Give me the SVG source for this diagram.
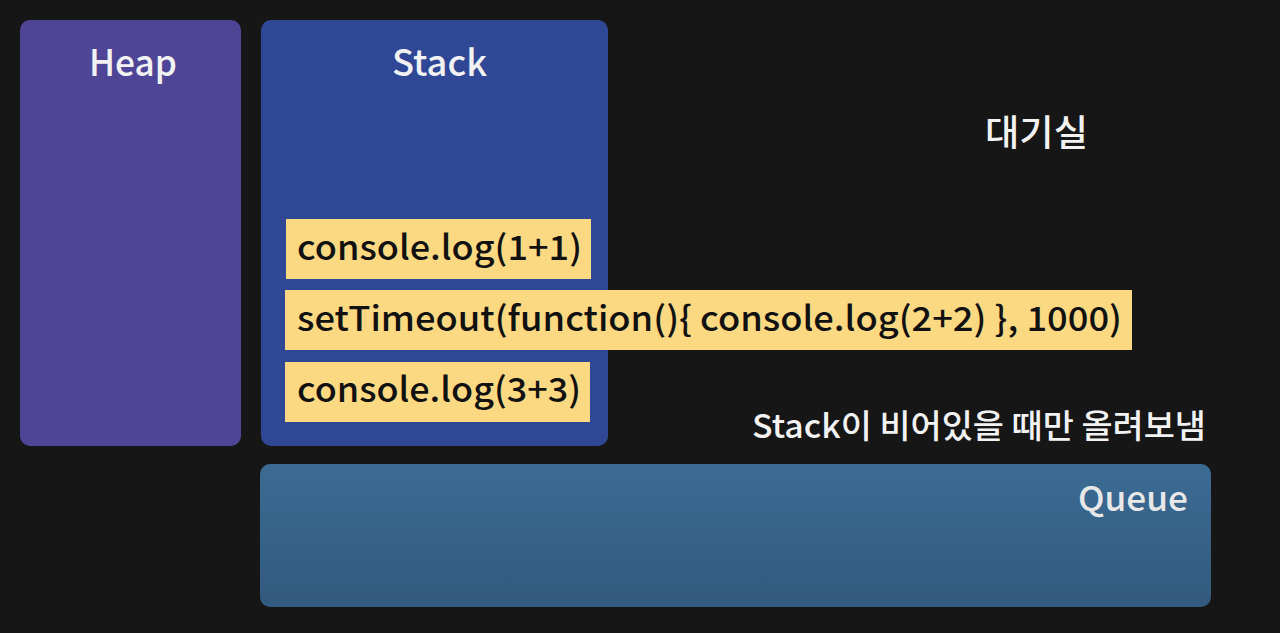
<svg xmlns="http://www.w3.org/2000/svg" width="1280" height="633" viewBox="0 0 1280 633">
<defs>
<linearGradient id="qg" x1="0" y1="0" x2="0" y2="1">
<stop offset="0" stop-color="#3b6b94"/>
<stop offset="1" stop-color="#325a7e"/>
</linearGradient>
<style>
.t{font-family:"Noto Sans CJK KR","Noto Sans",sans-serif;font-weight:500;}
.w{fill:#f2f2f2;}
.code{fill:#111;font-size:34px;}
.ybox{fill:#fbd982;}
</style>
</defs>
<rect width="1280" height="633" fill="#161616"/>
<g id="heap">
<rect x="20" y="20" width="221" height="426" rx="10" fill="#4e4597"/>
<text class="t w" x="89" y="76" font-size="36" textLength="88" lengthAdjust="spacingAndGlyphs">Heap</text>
</g>
<g id="stack">
<rect x="261" y="20" width="347" height="426" rx="10" fill="#2f4795"/>
<text class="t w" x="392" y="76" font-size="36" textLength="95" lengthAdjust="spacingAndGlyphs">Stack</text>
</g>
<g id="queue">
<rect x="260" y="464" width="951" height="143" rx="10" fill="url(#qg)"/>
<text class="t" x="1078" y="511" font-size="34" textLength="110" lengthAdjust="spacingAndGlyphs" fill="#e8e8e8">Queue</text>
</g>
<g id="call1">
<rect class="ybox" x="286" y="219" width="305" height="60"/>
<text class="t code" x="297" y="260" textLength="285" lengthAdjust="spacingAndGlyphs">console.log(1+1)</text>
</g>
<g id="call2">
<rect class="ybox" x="285" y="290" width="847" height="60"/>
<text class="t code" x="297" y="331" textLength="825" lengthAdjust="spacingAndGlyphs">setTimeout(function(){ console.log(2+2) }, 1000)</text>
</g>
<g id="call3">
<rect class="ybox" x="285" y="362" width="305" height="60"/>
<text class="t code" x="297" y="402" textLength="284" lengthAdjust="spacingAndGlyphs">console.log(3+3)</text>
</g>
<g id="waiting">
<text class="t w" x="985" y="146" font-size="36" textLength="103" lengthAdjust="spacingAndGlyphs">대기실</text>
</g>
<g id="note">
<text class="t w" x="752" y="438" font-size="33" textLength="454" lengthAdjust="spacingAndGlyphs">Stack이 비어있을 때만 올려보냄</text>
</g>
<g id="connectors"></g>
</svg>
